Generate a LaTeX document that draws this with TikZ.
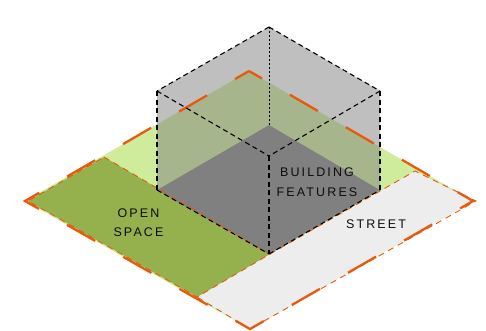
\documentclass[tikz,border=0pt]{standalone}
\usepackage{fontspec}
\newfontfamily\plotfont[LetterSpace=17]{Liberation Sans}
\usetikzlibrary{positioning}
\definecolor{lawn}{HTML}{CFEC9C}
\definecolor{park}{HTML}{95B14E}
\definecolor{road}{HTML}{EDEDED}
\definecolor{mass}{HTML}{808080}
\definecolor{lotline}{HTML}{E8590C}

\begin{document}
\begin{tikzpicture}[
      x=1pt,y=-1pt,
      mylabel/.style={
         align=center,
         text=black!95,
         inner sep=0pt,
         font=\plotfont\fontsize{12.5}{19.5}\selectfont},
      myedge/.style={draw=black,line width=1.1pt,dash pattern=on 5pt off 3.5pt},
      myback/.style={draw=black,line width=0.9pt,dash pattern=on 2pt off 2pt},
      mylot/.style={draw=lotline,line width=2.3pt,dash pattern=on 32.4pt off 32.3pt,dash phase=16.2pt},
      mypart/.style={draw=lotline,line width=0.9pt,dash pattern=on 6pt off 5pt}
      ]
      \useasboundingbox (0,0) rectangle (486,330);
      % lot corners
      \coordinate (lt) at (249,71);
      \coordinate (ll) at (25,201);
      \coordinate (lb) at (250,329);
      \coordinate (lr) at (473,201);
      % open space and street
      \coordinate (o1) at (104,157);
      \coordinate (o2) at (270,254);
      \coordinate (o3) at (197,297);
      \coordinate (o4) at (28,201);
      \coordinate (s1) at (415,171);
      \coordinate (s2) at (476,201);
      \coordinate (s3) at (250,329);
      % building, top then floor
      \coordinate (c1) at (269,27);
      \coordinate (c2) at (157,91);
      \coordinate (c3) at (269,156);
      \coordinate (c4) at (380,91);
      \coordinate (f1) at (269,125);
      \coordinate (f2) at (157,190);
      \coordinate (f3) at (269,254);
      \coordinate (f4) at (380,190);

      \fill[lawn] (lt) -- (ll) -- (lb) -- (lr) -- cycle;
      \fill[road] (s1) -- (lr) -- (s3) -- (o3) -- (o2) -- cycle;
      \fill[park] (o1) -- (o2) -- (o3) -- (o4) -- cycle;
      \fill[mass] (f1) -- (f2) -- (f3) -- (f4) -- cycle;
      \fill[mass,fill opacity=0.5] (c1) -- (c2) -- (f2) -- (f1) -- (f4) -- (c4) -- cycle;

      \draw[mypart] (o1) -- (o2) -- (o3) -- (o4) -- cycle;
      \draw[mypart] (o2) -- (s1) -- (s2) -- (s3) -- (o3);
      \draw[mylot] (lt) -- (ll) -- (lb) -- (lr) -- cycle;

      \foreach \i/\j in {% start/end
        c1/c2,
        c1/c4,
        c2/c3,
        c4/c3,
        c2/f2,
        c4/f4,
        c3/f3,
        f2/f3,
        f3/f4}
        \draw[myedge] (\i) -- (\j);
      \draw[myback] (c1) -- (f1);

      \node[mylabel] (open) at (138.5,222.5) {OPEN\\SPACE};
      \node[mylabel] (features) at (317,182) {BUILDING\\FEATURES};
      \node[mylabel] (street) at (376,224) {STREET};
    \end{tikzpicture}
\end{document}
